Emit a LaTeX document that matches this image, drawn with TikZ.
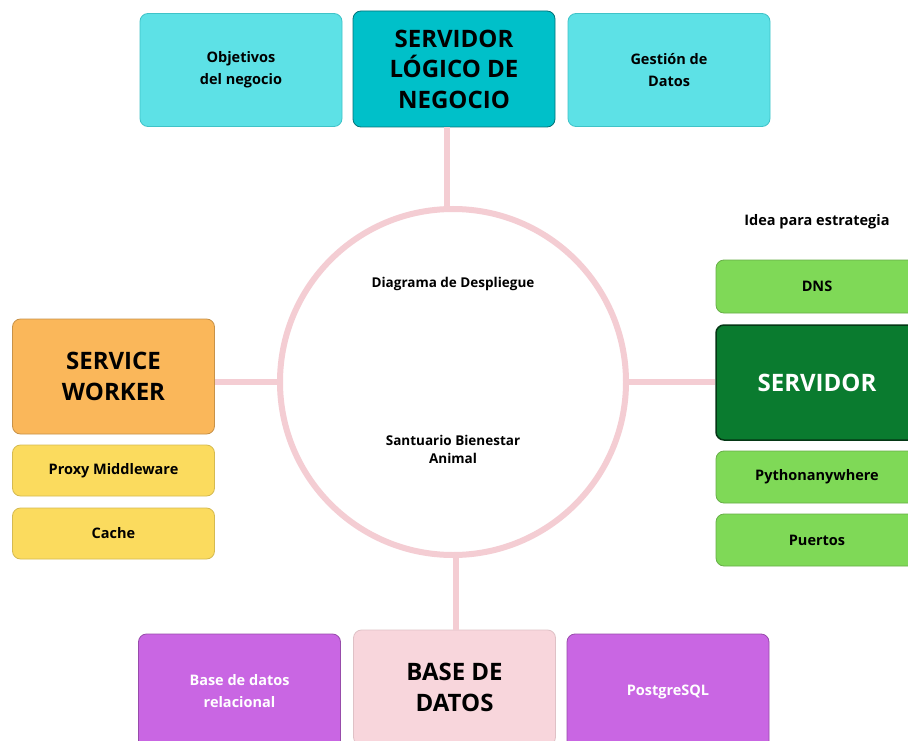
\documentclass[tikz,border=0pt]{standalone}
\usepackage{fontspec}
\setmainfont{Open Sans}

\definecolor{tealclaro}{HTML}{5DE1E6}
\definecolor{tealborde}{HTML}{3FC3C8}
\definecolor{tealfuerte}{HTML}{00C0C9}
\definecolor{naranja}{HTML}{FAB75A}
\definecolor{amarillo}{HTML}{FBDB5E}
\definecolor{verdeclaro}{HTML}{7FD957}
\definecolor{verdeoscuro}{HTML}{0A7B2F}
\definecolor{morado}{HTML}{C966E3}
\definecolor{rosado}{HTML}{F8D6DC}
\definecolor{rosalinea}{HTML}{F4CDD3}

\tikzset{
  caja/.style={rectangle,rounded corners=8pt,minimum width=202pt,align=center,
    font=\bfseries\fontsize{14.5}{22}\selectfont,line width=0.8pt},
  grande/.style={font=\bfseries\fontsize{24}{30.5}\selectfont},
  linea/.style={draw=rosalinea,line width=6pt}
}

\begin{document}
\begin{tikzpicture}[x=1pt,y=-1pt]
\clip (0,0) rectangle (908,741);
\fill[white] (0,0) rectangle (908,741);

% arriba
\node[caja,fill=tealclaro,draw=tealborde,minimum height=113pt] (objetivos) at (241,70) {Objetivos\\del negocio};
\node[caja,grande,fill=tealfuerte,draw=tealfuerte!60!black,minimum height=116pt] (logico) at (454,69) {SERVIDOR\\LÓGICO DE\\NEGOCIO};
\node[caja,fill=tealclaro,draw=tealborde,minimum height=113pt] (gestion) at (669,70) {Gestión de\\Datos};

% centro
\node[circle,draw=rosalinea,line width=6pt,minimum size=346pt] (centro) at (453,382) {};
\node[font=\bfseries\fontsize{13.5}{18}\selectfont] (titulo) at (453,284) {Diagrama de Despliegue};
\node[font=\bfseries\fontsize{13.5}{18}\selectfont,align=center] (santuario) at (453,449) {Santuario Bienestar\\Animal};

% izquierda
\node[caja,grande,fill=naranja,draw=naranja!80!black,minimum height=115pt] (worker) at (113.5,376.5) {SERVICE\\WORKER};
\node[caja,fill=amarillo,draw=amarillo!85!black,minimum height=51pt] (proxy) at (113.5,470.5) {Proxy Middleware};
\node[caja,fill=amarillo,draw=amarillo!85!black,minimum height=51pt] (cache) at (113.5,533.5) {Cache};

% derecha
\node[font=\bfseries\fontsize{14.5}{18}\selectfont] (idea) at (817,222) {Idea para estrategia};
\node[caja,fill=verdeclaro,draw=verdeclaro!80!black,minimum height=53pt] (dns) at (817,286.5) {DNS};
\node[caja,grande,text=white,fill=verdeoscuro,draw=verdeoscuro!45!black,line width=1.5pt,minimum height=115pt] (servidor) at (817,382.5) {SERVIDOR};
\node[caja,fill=verdeclaro,draw=verdeclaro!80!black,minimum height=52pt] (python) at (817,477) {Pythonanywhere};
\node[caja,fill=verdeclaro,draw=verdeclaro!80!black,minimum height=52pt] (puertos) at (817,540) {Puertos};

% abajo
\node[caja,text=white,fill=morado,draw=morado!75!black,minimum height=115pt] (relacional) at (239.5,691.5) {Base de datos\\relacional};
\node[caja,grande,fill=rosado,draw=rosado!90!black,minimum height=115pt] (basedatos) at (454.5,687.5) {BASE DE\\DATOS};
\node[caja,text=white,fill=morado,draw=morado!75!black,minimum height=115pt] (postgres) at (668,691.5) {PostgreSQL};

% conectores
\draw[linea] ([xshift=-7pt]logico.south) -- ([xshift=-7pt]logico.south |- centro.north);
\draw[linea] (worker.east |- centro.west) -- (centro.west);
\draw[linea] (centro.east) -- (servidor.west |- centro.east);
\draw[linea] ([xshift=3pt]centro.south) -- ([xshift=3pt]centro.south |- basedatos.north);
\end{tikzpicture}
\end{document}
